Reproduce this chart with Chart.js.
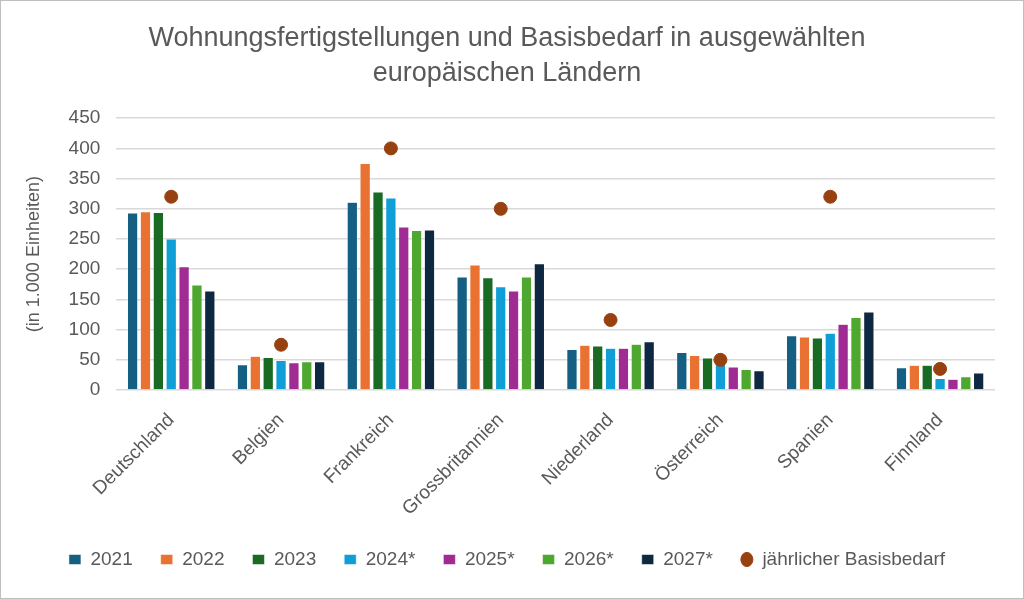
<!DOCTYPE html>
<html>
<head>
<meta charset="utf-8">
<script src="https://cdn.jsdelivr.net/npm/chart.js@4"></script>
<style>
  html, body { margin: 0; padding: 0; background: #fff; }
  #wrap { width: 1022px; height: 597px; border: 1px solid #bfbfbf; }
</style>
</head>
<body>
<div id="wrap"><canvas id="chart" width="1022" height="597"></canvas></div>
<script>
// Kategorien und Werte (in 1.000 Einheiten)
const laender = ['Deutschland', 'Belgien', 'Frankreich', 'Grossbritannien', 'Niederland', 'Österreich', 'Spanien', 'Finnland'];
const jahre = ['2021', '2022', '2023', '2024*', '2025*', '2026*', '2027*'];
const w2021 = [293, 42, 311, 187, 67, 62, 90, 37];
const w2022 = [295, 56, 375, 207, 74, 57, 88, 41];
const w2023 = [294, 54, 328, 186, 73, 53, 86, 41];
const w2024 = [250, 49, 318, 171, 69, 44, 94, 19];
const w2025 = [204, 45, 270, 164, 69, 38, 109, 18];
const w2026 = [174, 47, 264, 187, 76, 34, 120, 22];
const w2027 = [164, 47, 265, 209, 80, 32, 129, 28];
const basisbedarf = [320, 75, 400, 300, 116, 50, 320, 35];

const farben = ['#156082', '#E97132', '#196B24', '#0F9ED5', '#A02B93', '#4EA72E', '#0E2841'];
const punktFarbe = '#974010';
const textFarbe = '#595959';
const schrift = "'Liberation Sans', Arial, sans-serif";

const werte = [w2021, w2022, w2023, w2024, w2025, w2026, w2027];

const datasets = jahre.map((j, i) => ({
    type: 'bar',
    label: j,
    data: werte[i],
    backgroundColor: farben[i],
    borderColor: '#ffffff',
    borderWidth: 0.5,
    categoryPercentage: 0.82,
    barPercentage: 0.8,
    pointStyle: 'rect',
    order: 1
}));
datasets.push({
    type: 'line',
    label: 'jährlicher Basisbedarf',
    data: basisbedarf,
    showLine: false,
    pointRadius: 6.5,
    pointHoverRadius: 6.5,
    pointBackgroundColor: punktFarbe,
    pointBorderColor: punktFarbe,
    backgroundColor: punktFarbe,
    borderColor: punktFarbe,
    pointStyle: 'circle',
    order: 0 // über den Balken zeichnen
});

new Chart(document.getElementById('chart'), {
    data: { labels: laender, datasets: datasets },
    options: {
        responsive: false,
        devicePixelRatio: 1,
        animation: false,
        layout: { padding: { left: 18, right: 28, top: 5, bottom: 19 } },
        plugins: {
            title: {
                display: true,
                text: ['Wohnungsfertigstellungen und Basisbedarf in ausgewählten', 'europäischen Ländern'],
                color: textFarbe,
                font: { family: schrift, size: 27, weight: 'normal', lineHeight: 1.3 },
                padding: { top: 15, bottom: 27 }
            },
            legend: {
                position: 'bottom',
                labels: {
                    color: textFarbe,
                    font: { family: schrift, size: 19 },
                    usePointStyle: true,
                    boxWidth: 11,
                    boxHeight: 10,
                    pointStyleWidth: 12,
                    padding: 28,
                    sort: (a, b) => a.datasetIndex - b.datasetIndex
                }
            },
            tooltip: { enabled: false }
        },
        scales: {
            x: {
                grid: { display: false },
                border: { display: false },
                ticks: {
                    color: textFarbe,
                    font: { family: schrift, size: 19 },
                    minRotation: 45,
                    maxRotation: 45,
                    padding: 11
                },
                // Beschriftungen dürfen in den Leerraum über der Legende ragen
                afterFit: (scale) => { scale.height -= 9; }
            },
            y: {
                min: 0,
                max: 450,
                ticks: {
                    stepSize: 50,
                    color: textFarbe,
                    font: { family: schrift, size: 19 },
                    padding: 16
                },
                grid: { color: '#d9d9d9', lineWidth: 1.5, drawTicks: false },
                border: { display: false },
                title: {
                    display: true,
                    text: '(in 1.000 Einheiten)',
                    color: textFarbe,
                    font: { family: schrift, size: 18 },
                    padding: { bottom: 8 }
                }
            }
        }
    }
});
</script>
</body>
</html>
